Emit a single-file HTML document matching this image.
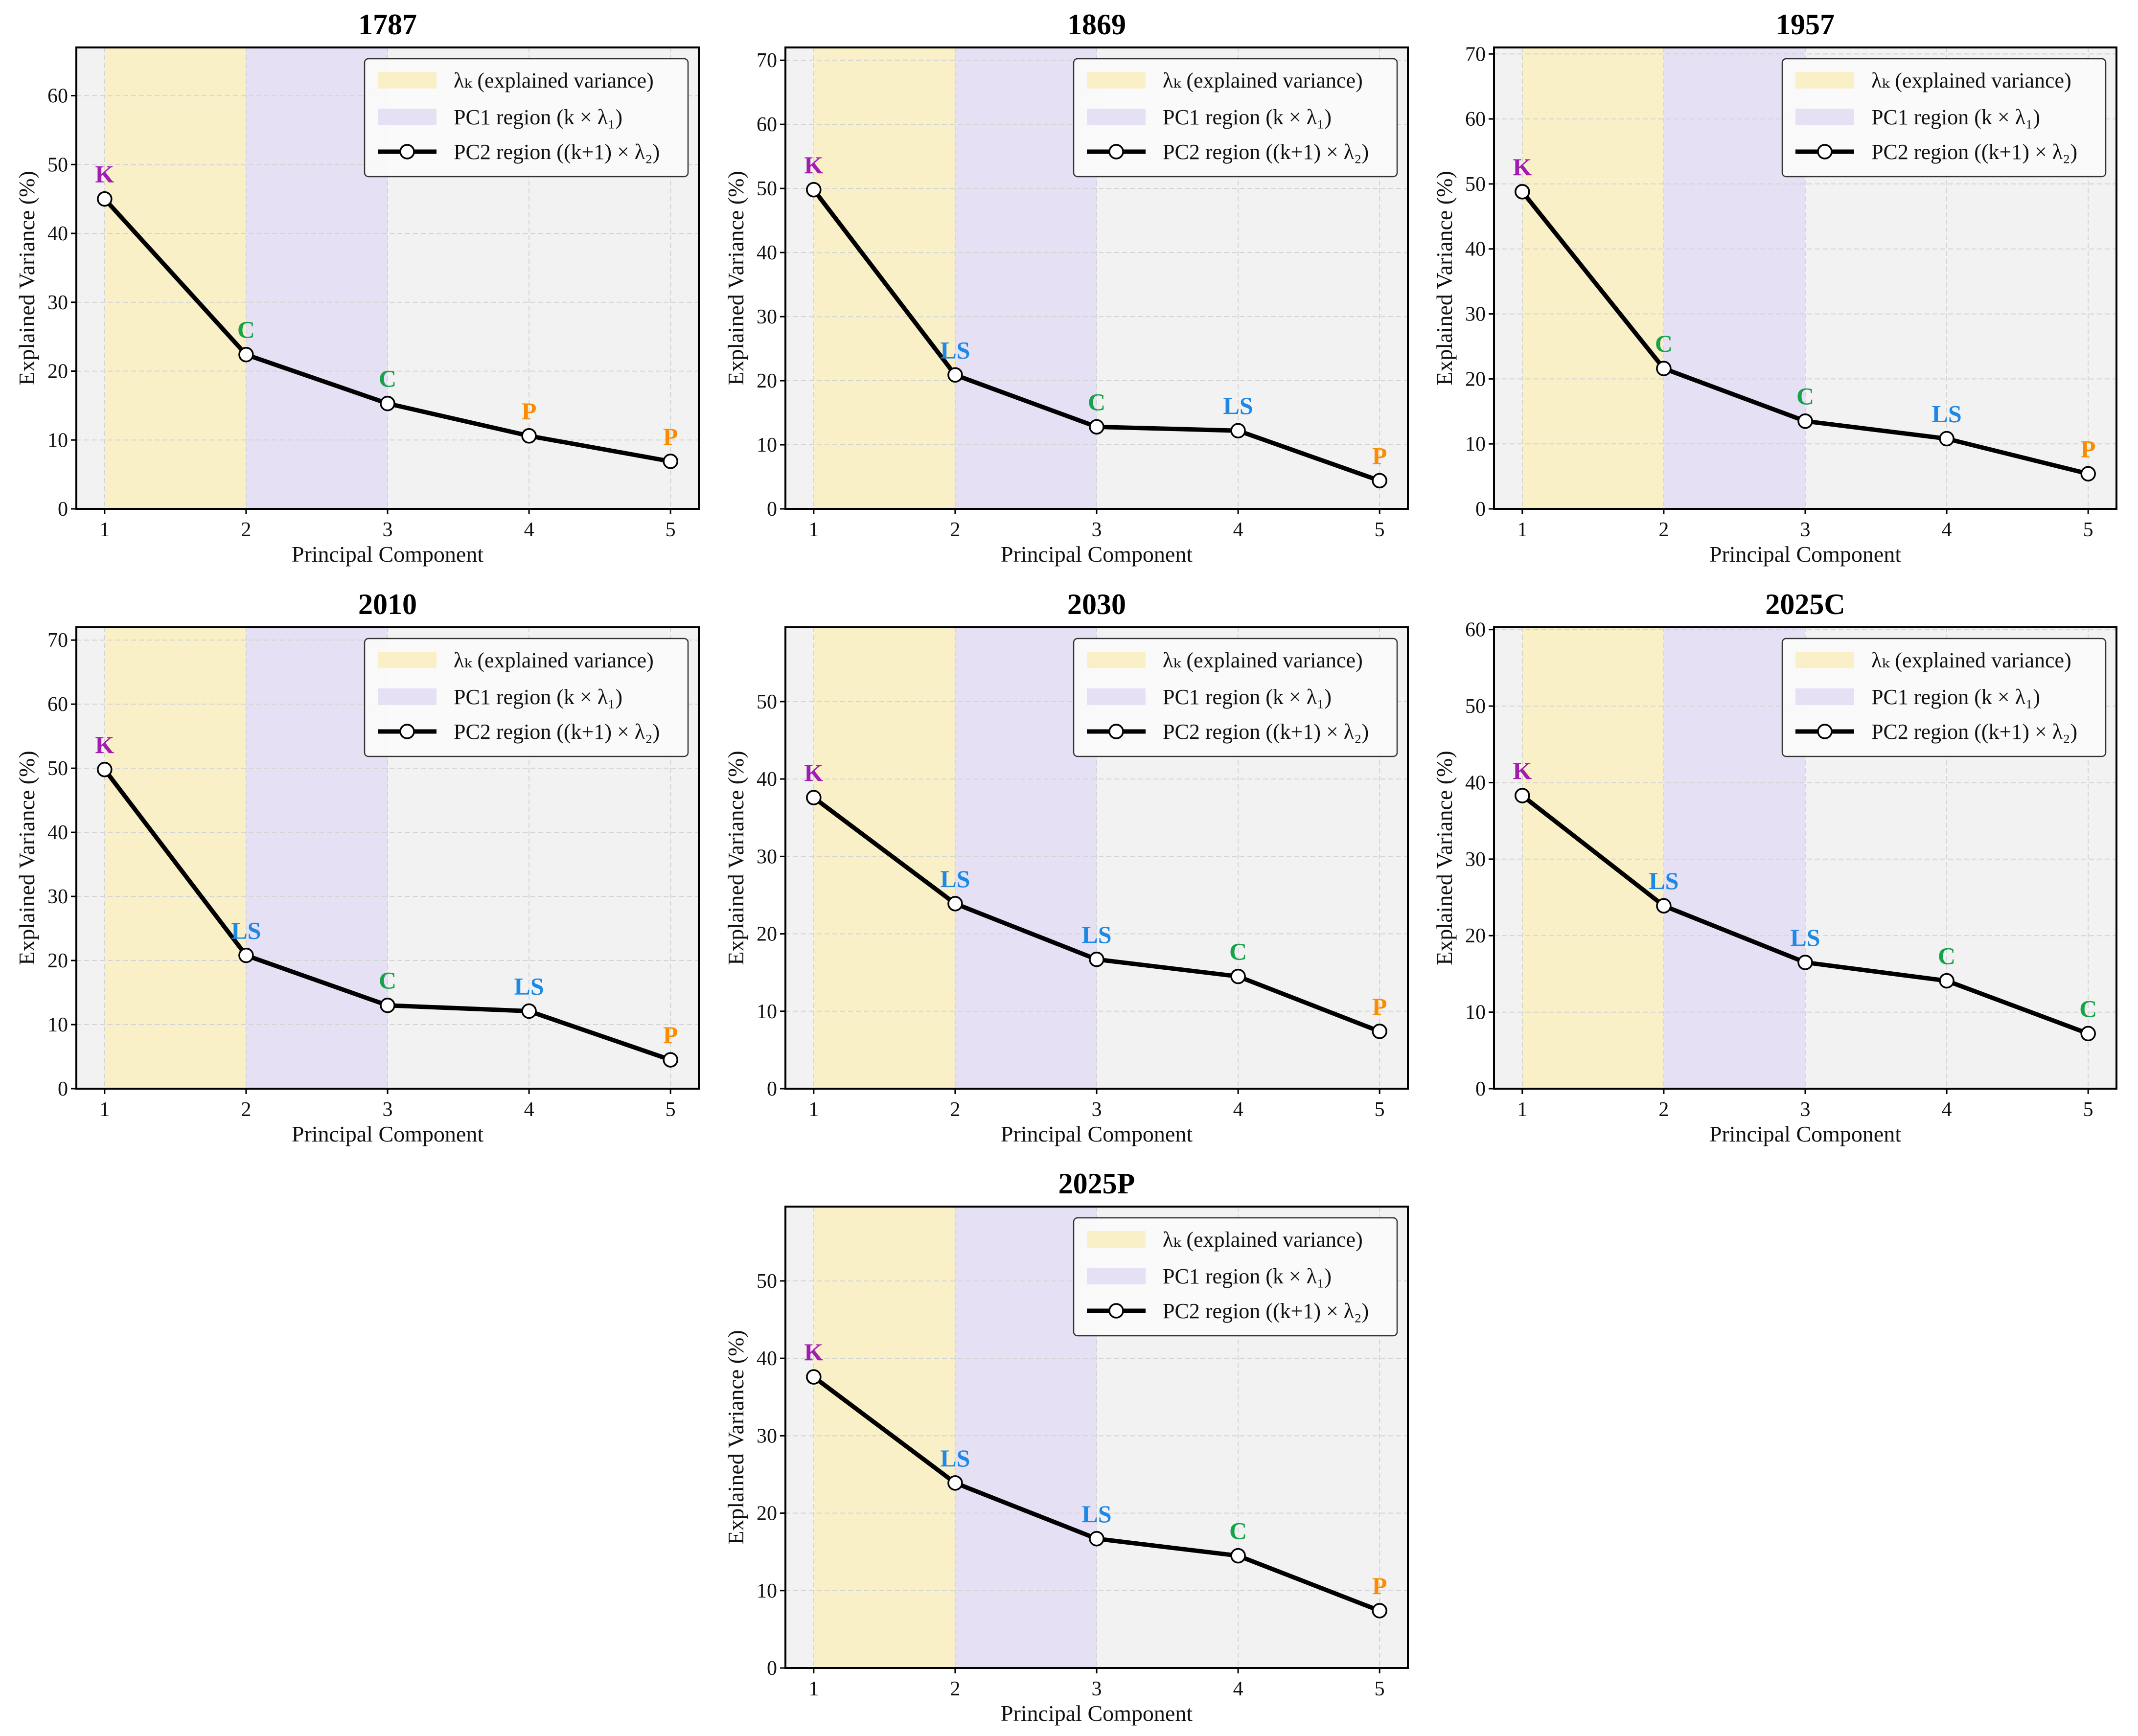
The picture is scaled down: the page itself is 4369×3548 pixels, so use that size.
<!DOCTYPE html>
<html><head><meta charset="utf-8">
<style>
html,body{margin:0;padding:0;background:#fff;}
svg{display:block;}
text{font-family:"Liberation Serif","DejaVu Serif",serif;}
</style></head>
<body>
<svg id="fig" width="4369" height="3548" viewBox="0 0 4369 3548" xmlns="http://www.w3.org/2000/svg"></svg>
<script>
const panelTitles = ["1787","1869","1957","2010","2030","2025C","2025P"];
const components = [1,2,3,4,5];
const values1787 = [45.0,22.4,15.3,10.6,6.9];
const values1869 = [49.8,20.9,12.8,12.2,4.4];
const values1957 = [48.8,21.6,13.5,10.8,5.4];
const values2010 = [49.8,20.8,13.0,12.1,4.5];
const values2030 = [37.6,23.9,16.7,14.5,7.4];
const values2025C = [38.3,23.9,16.5,14.1,7.2];
const values2025P = [37.6,23.9,16.7,14.5,7.4];
const labels1787 = ["K","C","C","P","P"];
const labels1869 = ["K","LS","C","LS","P"];
const labels1957 = ["K","C","C","LS","P"];
const labels2010 = ["K","LS","C","LS","P"];
const labels2030 = ["K","LS","LS","C","P"];
const labels2025C = ["K","LS","LS","C","C"];
const labels2025P = ["K","LS","LS","C","P"];
const yMaxes = [67,72,71,72,59.6,60.3,59.6];
const xTicks = [1,2,3,4,5];
const legendLabels = ["λ\u2096 (explained variance)","PC1 region (k × λ\u2081)","PC2 region ((k+1) × λ\u2082)"];

const allValues = [values1787,values1869,values1957,values2010,values2030,values2025C,values2025P];
const allLabels = [labels1787,labels1869,labels1957,labels2010,labels2030,labels2025C,labels2025P];
const labelColors = {K:"#a21caf",C:"#16a34a",LS:"#1e88e5",P:"#fb8c00"};

const NS = "http://www.w3.org/2000/svg";
const fig = document.getElementById('fig');
function mk(tag, attrs, parent){
  const e = document.createElementNS(NS, tag);
  for (const k in attrs) e.setAttribute(k, attrs[k]);
  (parent||fig).appendChild(e);
  return e;
}
const positions = [[156,97],[1605,97],[3053,97],[156,1282],[1605,1282],[3053,1282],[1605,2466]];
const W = 1272, H = 943;

for (let p=0;p<7;p++){
  const [L,T] = positions[p];
  const vals = allValues[p], labs = allLabels[p], ymax = yMaxes[p];
  const g = mk('g',{});
  
  
  const xs = v => L + (v-0.8)/4.4*W;
  const ys = v => T + H - v/ymax*H;
  const bg = mk('rect',{x:L,y:T,width:W,height:H,fill:'#f2f2f2'},g);
  
  
  const r1 = mk('rect',{x:xs(1),y:T,width:xs(2)-xs(1),height:H,fill:'#faf0c8'},g);
  
  
  const r2 = mk('rect',{x:xs(2),y:T,width:xs(3)-xs(2),height:H,fill:'#e6e0f5'},g);
  
  
  const yticks = [];
  for (let t=0;t<=ymax;t+=10) yticks.push(t);
  yticks.forEach(t=>{
    if(t>0){ const gl = mk('line',{x1:L,x2:L+W,y1:ys(t),y2:ys(t),stroke:'#d4d4d4','stroke-width':2,'stroke-dasharray':'10,6'},g);
    
     }
    const tk = mk('line',{x1:L-11,x2:L,y1:ys(t),y2:ys(t),stroke:'#000','stroke-width':3},g);
    
    
    const tl = mk('text',{x:L-17,y:ys(t)+14,'text-anchor':'end','font-size':42,fill:'#111'},g);
    tl.textContent = t;
    
    
  });
  xTicks.forEach(t=>{
    const gl = mk('line',{x1:xs(t),x2:xs(t),y1:T,y2:T+H,stroke:'#d4d4d4','stroke-width':2,'stroke-dasharray':'10,6'},g);
    
    
    const tk = mk('line',{x1:xs(t),x2:xs(t),y1:T+H,y2:T+H+11,stroke:'#000','stroke-width':3},g);
    
    
    const tl = mk('text',{x:xs(t),y:T+H+56,'text-anchor':'middle','font-size':42,fill:'#111'},g);
    tl.textContent = t;
    
    
  });
  const pts = components.map((c,i)=>xs(c)+','+ys(vals[i])).join(' ');
  const pl = mk('polyline',{points:pts,fill:'none',stroke:'#000','stroke-width':9,'stroke-linejoin':'round'},g);
  
  
  components.forEach((c,i)=>{
    const m = mk('circle',{cx:xs(c),cy:ys(vals[i]),r:14,fill:'#fff',stroke:'#000','stroke-width':3.5},g);
    
    
    const lt = mk('text',{x:xs(c),y:ys(vals[i])-34,'text-anchor':'middle','font-size':50,'font-weight':'bold',fill:labelColors[labs[i]]},g);
    lt.textContent = labs[i];
    
    
  });
  const sp = mk('rect',{x:L,y:T,width:W,height:H,fill:'none',stroke:'#000','stroke-width':4},g);
  
  
  const lx = L+W-22-661, ly = T+23;
  const lg = mk('g',{},g);
  
  
  mk('rect',{x:lx,y:ly,width:661,height:241,rx:8,fill:'#fafafa','fill-opacity':0.95,stroke:'#333','stroke-width':2.5},lg);
  const sw1 = mk('rect',{x:lx+27,y:ly+27,width:120,height:34,fill:'#faf0c8'},lg);
  
  
  const sw2 = mk('rect',{x:lx+27,y:ly+102,width:120,height:34,fill:'#e6e0f5'},lg);
  
  
  mk('line',{x1:lx+27,x2:lx+147,y1:ly+190,y2:ly+190,stroke:'#000','stroke-width':9},lg);
  mk('circle',{cx:lx+87,cy:ly+190,r:14,fill:'#fff',stroke:'#000','stroke-width':3.5},lg);
  [44,119,190].forEach((dy,i)=>{
    const t = mk('text',{x:lx+182,y:ly+dy+15,'font-size':44,fill:'#111'},lg);
    t.textContent = legendLabels[i];
    
    
  });
  const tt = mk('text',{x:L+W/2,y:T-27,'text-anchor':'middle','font-size':60,'font-weight':'bold',fill:'#000'},g);
  tt.textContent = panelTitles[p];
  
  
  const xl = mk('text',{x:L+W/2,y:T+H+108,'text-anchor':'middle','font-size':46,fill:'#111'},g);
  xl.textContent = 'Principal Component';
  
  
  const yl = mk('text',{x:0,y:0,'text-anchor':'middle','font-size':46,fill:'#111',transform:'translate('+(L-86)+','+(T+H/2)+') rotate(-90)'},g);
  yl.textContent = 'Explained Variance (%)';
  
  
}
</script>
</body></html>
